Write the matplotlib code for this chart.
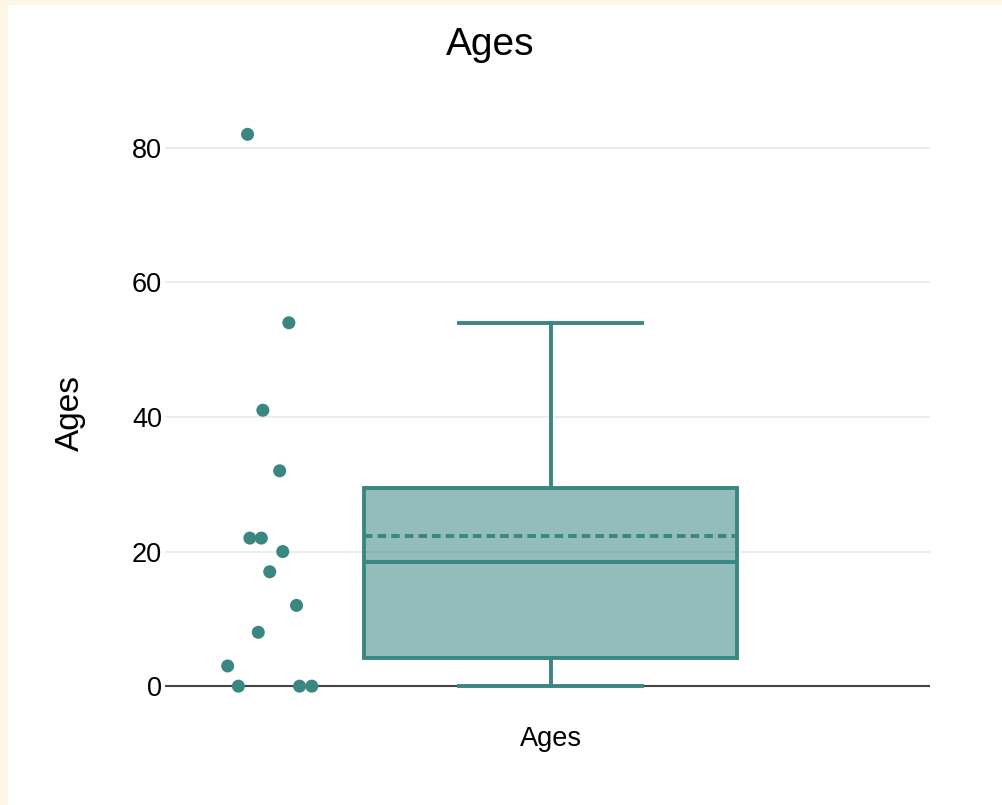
import numpy as np
import matplotlib.pyplot as plt

plt.rcParams['font.family'] = ['Liberation Sans', 'DejaVu Sans']

# ages
ages = [82, 54, 41, 32, 22, 22, 20, 17, 12, 8, 3, 0, 0, 0]
# horizontal jitter of each point (category units, box centred at 0)
jitter = [-0.396, -0.342, -0.376, -0.354, -0.393, -0.378, -0.350, -0.367,
          -0.332, -0.382, -0.422, -0.408, -0.328, -0.312]
category = 'Ages'
yticks = [0, 20, 40, 60, 80]

teal = '#3a8782'

fig = plt.figure(figsize=(10.02, 8.05), dpi=100)
fig.patch.set_facecolor('#fdf5e6')
# white page panel
panel = plt.Rectangle((8 / 1002, 0), 1, 1 - 5 / 805, transform=fig.transFigure,
                      facecolor='white', edgecolor='none', zorder=-10)
fig.add_artist(panel)

ax = fig.add_axes([165 / 1002, 1 - 705 / 805, 765 / 1002, 605 / 805])
ax.set_facecolor('none')

bp = ax.boxplot([ages], positions=[0], widths=0.4876, whis=1.5, showfliers=False,
                showmeans=True, meanline=True, patch_artist=True,
                boxprops=dict(facecolor=(58 / 255, 135 / 255, 130 / 255, 0.55), edgecolor=teal, linewidth=2.8),
                medianprops=dict(color=teal, linewidth=2.8),
                meanprops=dict(color=teal, linewidth=2.8, linestyle=(0, (2.2, 1.3))),
                whiskerprops=dict(color=teal, linewidth=2.8),
                capprops=dict(color=teal, linewidth=2.8),
                capwidths=0.238, zorder=3)

ax.scatter(jitter, ages, s=88, color=teal, edgecolors='none', zorder=4)

ax.set_xlim(-0.5 - 3 / 765, 0.5 - 3 / 765)
ax.set_ylim(-2.8, 87.1)
ax.set_yticks(yticks)
ax.set_xticks([0])
ax.set_xticklabels([category])
ax.tick_params(axis='both', length=0, labelsize=19.5)
ax.tick_params(axis='x', pad=15)
ax.tick_params(axis='y', pad=2)
ax.grid(axis='y', color='#ebebeb', linewidth=1.3, zorder=0)
ax.axhline(0, color='#444444', linewidth=1.5, zorder=2)
for s in ax.spines.values():
    s.set_visible(False)

fig.text(490 / 1002, 1 - 45 / 805, 'Ages', fontsize=28, ha='center', va='center')
fig.text(70 / 1002, 1 - 413 / 805, 'Ages', fontsize=24, ha='center', va='center', rotation=90)

fig.savefig('out.png', dpi=100)
